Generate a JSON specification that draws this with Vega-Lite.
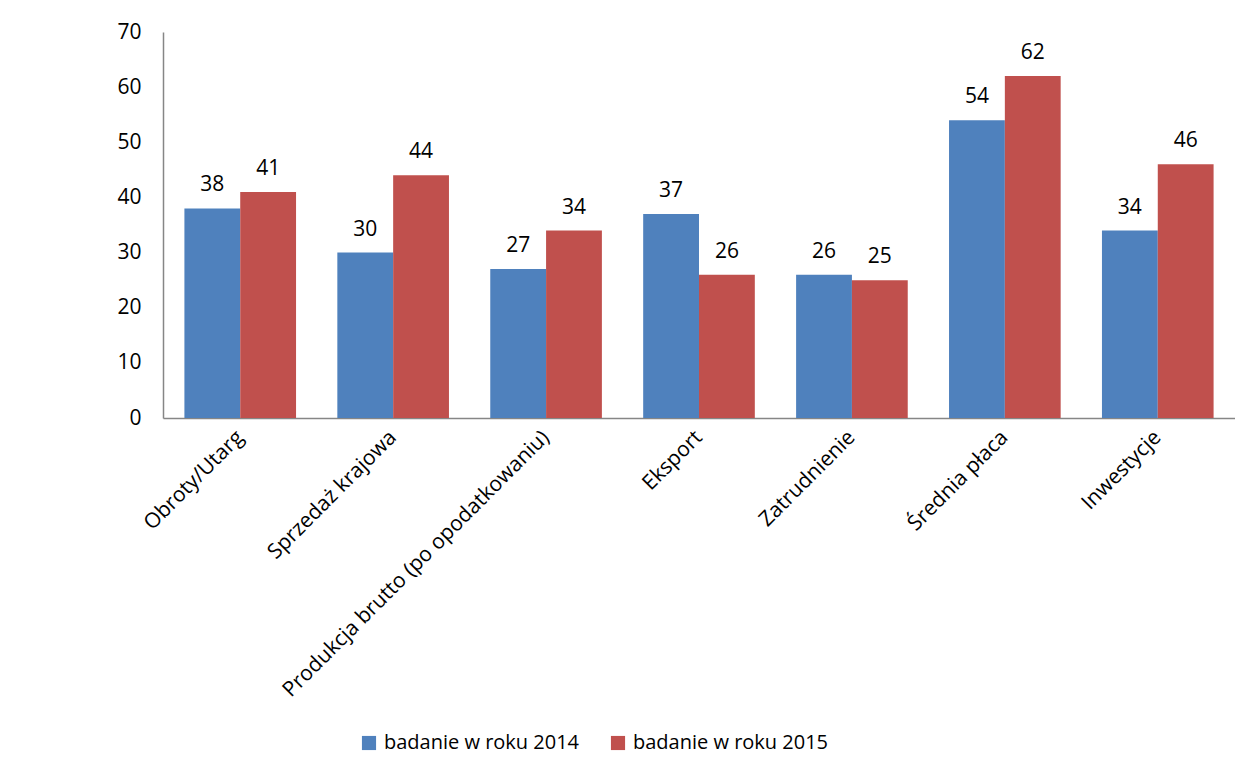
{
  "$schema": "https://vega.github.io/schema/vega-lite/v6.json",
  "autosize": {"type": "none"},
  "width": 1072,
  "height": 386,
  "padding": {"left": 163, "top": 32, "right": 0, "bottom": 358},
  "background": "white",
  "config": {
    "view": {"stroke": null},
    "font": "Open Sans",
    "axis": {"labelFont": "Open Sans", "labelColor": "#000000", "labelFontSize": 21, "domainColor": "#868686", "domainWidth": 1.5, "ticks": false, "grid": false, "title": null}
  },
  "data": {
    "values": [
      {"kat": "Obroty/Utarg", "seria": "badanie w roku 2014", "v": 38},
      {"kat": "Obroty/Utarg", "seria": "badanie w roku 2015", "v": 41},
      {"kat": "Sprzedaż krajowa", "seria": "badanie w roku 2014", "v": 30},
      {"kat": "Sprzedaż krajowa", "seria": "badanie w roku 2015", "v": 44},
      {"kat": "Produkcja brutto (po opodatkowaniu)", "seria": "badanie w roku 2014", "v": 27},
      {"kat": "Produkcja brutto (po opodatkowaniu)", "seria": "badanie w roku 2015", "v": 34},
      {"kat": "Eksport", "seria": "badanie w roku 2014", "v": 37},
      {"kat": "Eksport", "seria": "badanie w roku 2015", "v": 26},
      {"kat": "Zatrudnienie", "seria": "badanie w roku 2014", "v": 26},
      {"kat": "Zatrudnienie", "seria": "badanie w roku 2015", "v": 25},
      {"kat": "Średnia płaca", "seria": "badanie w roku 2014", "v": 54},
      {"kat": "Średnia płaca", "seria": "badanie w roku 2015", "v": 62},
      {"kat": "Inwestycje", "seria": "badanie w roku 2014", "v": 34},
      {"kat": "Inwestycje", "seria": "badanie w roku 2015", "v": 46}
    ]
  },
  "encoding": {
    "x": {
      "field": "kat", "type": "nominal", "sort": null,
      "scale": {"paddingInner": 0.27, "paddingOuter": 0.14},
      "axis": {"labelAngle": -45, "labelAlign": "right", "labelBaseline": "middle", "labelPadding": 16, "labelLimit": 500}
    },
    "xOffset": {"field": "seria", "type": "nominal"},
    "y": {
      "field": "v", "type": "quantitative",
      "scale": {"domain": [0, 70], "nice": false},
      "axis": {"values": [0, 10, 20, 30, 40, 50, 60, 70], "labelPadding": 22, "domain": true}
    }
  },
  "layer": [
    {
      "mark": {"type": "bar"},
      "encoding": {
        "color": {
          "field": "seria", "type": "nominal",
          "scale": {"range": ["#4F81BD", "#C0504D"]},
          "legend": {
            "title": null, "orient": "none", "direction": "horizontal",
            "legendX": 196, "legendY": 701,
            "symbolType": "square", "symbolSize": 200, "symbolStrokeWidth": 0,
            "labelFont": "Open Sans", "labelFontSize": 20, "labelColor": "#000000", "labelLimit": 400,
            "columnPadding": 28, "labelOffset": 5
          }
        }
      }
    },
    {
      "mark": {"type": "text", "baseline": "bottom", "dy": -13, "fontSize": 21, "font": "Open Sans", "color": "#000000"},
      "encoding": {"text": {"field": "v", "type": "quantitative"}}
    }
  ]
}
